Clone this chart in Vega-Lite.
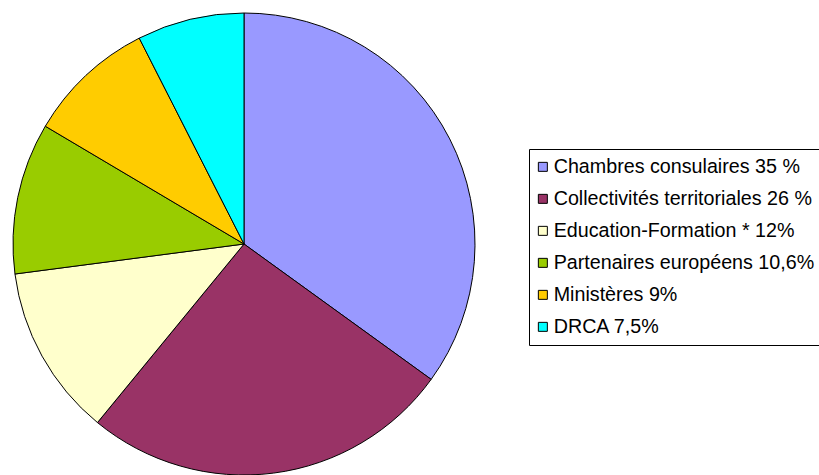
{
  "$schema": "https://vega.github.io/schema/vega-lite/v6.json",
  "width": 462,
  "height": 462,
  "autosize": {"type": "none"},
  "padding": {"left": 13, "top": 13, "right": 344, "bottom": 0},
  "background": "white",
  "data": {
    "values": [
      {"label": "Chambres consulaires 35 %", "value": 35, "idx": 1},
      {"label": "Collectivités territoriales 26 %", "value": 26, "idx": 2},
      {"label": "Education-Formation * 12%", "value": 12, "idx": 3},
      {"label": "Partenaires européens 10,6%", "value": 10.6, "idx": 4},
      {"label": "Ministères 9%", "value": 9, "idx": 5},
      {"label": "DRCA 7,5%", "value": 7.5, "idx": 6}
    ]
  },
  "mark": {"type": "arc", "outerRadius": 231, "stroke": "black", "strokeWidth": 1},
  "encoding": {
    "theta": {"field": "value", "type": "quantitative", "stack": true},
    "order": {"field": "idx", "type": "quantitative"},
    "color": {
      "field": "label",
      "type": "nominal",
      "sort": null,
      "scale": {
        "domain": [
          "Chambres consulaires 35 %",
          "Collectivités territoriales 26 %",
          "Education-Formation * 12%",
          "Partenaires européens 10,6%",
          "Ministères 9%",
          "DRCA 7,5%"
        ],
        "range": ["#9999FF", "#993366", "#FFFFCC", "#99CC00", "#FFCC00", "#00FFFF"]
      },
      "legend": {
        "title": null,
        "orient": "none",
        "legendX": 516,
        "legendY": 136,
        "padding": 8,
        "strokeColor": "black",
        "fillColor": "white",
        "symbolType": "square",
        "symbolSize": 81,
        "symbolOffset": -4,
        "symbolStrokeColor": "black",
        "symbolStrokeWidth": 1,
        "symbolOpacity": 1,
        "labelFont": "Liberation Sans",
        "labelFontSize": 19.7,
        "labelColor": "black",
        "labelLimit": 400,
        "labelOffset": 1,
        "rowPadding": 11
      }
    }
  },
  "config": {"view": {"stroke": null}}
}
